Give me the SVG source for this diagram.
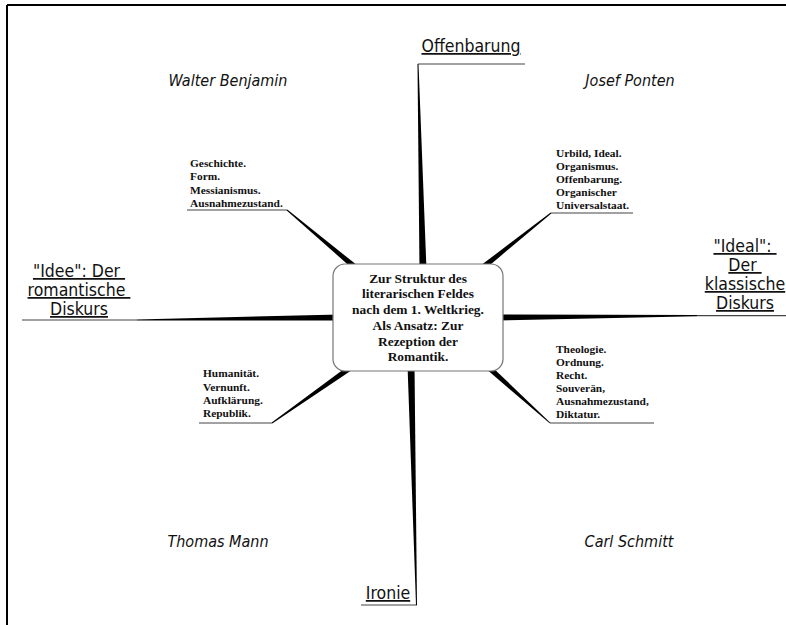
<svg xmlns="http://www.w3.org/2000/svg" width="786" height="625" viewBox="0 0 786 625">
<style>
.lbl{font-family:"DejaVu Sans Condensed","DejaVu Sans",sans-serif;font-stretch:condensed;font-size:17.5px;fill:#111;text-anchor:middle;text-decoration:underline;white-space:pre}
.name{font-family:"DejaVu Sans Condensed","DejaVu Sans",sans-serif;font-stretch:condensed;font-style:italic;font-size:16px;fill:#111;text-anchor:middle}
.sub{font-family:"Liberation Serif","Times New Roman",serif;font-weight:bold;font-size:11.4px;fill:#111}
.ctr{font-family:"Liberation Serif","Times New Roman",serif;font-weight:bold;font-size:13.4px;fill:#111;text-anchor:middle}
.thin{stroke:#444;stroke-width:1.2;fill:none}
.wedge{fill:#000}
</style>
<rect x="0" y="0" width="786" height="625" fill="#fff"/>
<g id="frame" stroke="#000" stroke-width="2" fill="none">
<line x1="7" y1="5" x2="786" y2="5"/>
<line x1="7" y1="5" x2="7" y2="625"/>
</g>
<g id="connectors">
<line class="thin" x1="418" y1="64" x2="525" y2="64"/>
<polygon class="wedge" points="417.5,64 418.5,64 426.5,270 419.5,270"/>
<line class="thin" x1="361" y1="605" x2="417" y2="605"/>
<polygon class="wedge" points="416,605 417,605 414.5,365 407.5,365"/>
<line class="thin" x1="22" y1="320" x2="137" y2="320"/>
<polygon class="wedge" points="137,319.4 340,314.5 340,320.5 137,320.6"/>
<line class="thin" x1="697" y1="315.6" x2="786" y2="315.6"/>
<polygon class="wedge" points="697,315 496,314.5 496,320.5 697,316.2"/>
<line class="thin" x1="187" y1="210" x2="287" y2="210"/>
<polygon class="wedge" points="286.68,210.38 354.2,270.14 357.8,265.86 287.32,209.62"/>
<line class="thin" x1="551" y1="213" x2="633" y2="213"/>
<polygon class="wedge" points="550.69,212.61 480.26,265.81 483.74,270.19 551.31,213.39"/>
<line class="thin" x1="199" y1="423" x2="272" y2="423"/>
<polygon class="wedge" points="272.29,423.41 351.62,370.29 348.38,365.71 271.71,422.59"/>
<line class="thin" x1="550" y1="423" x2="654" y2="423"/>
<polygon class="wedge" points="550.34,422.63 488.88,363.93 485.12,368.07 549.66,423.37"/>
</g>
<g id="center">
<rect x="333" y="264" width="170" height="107" rx="12" ry="12" fill="#fff" stroke="#777" stroke-width="1.2"/>
<text class="ctr" x="418" y="282.7">Zur Struktur des</text>
<text class="ctr" x="418" y="298.4">literarischen Feldes</text>
<text class="ctr" x="418" y="314.1">nach dem 1. Weltkrieg.</text>
<text class="ctr" x="418" y="329.8">Als Ansatz: Zur</text>
<text class="ctr" x="418" y="345.5">Rezeption der</text>
<text class="ctr" x="418" y="361.2">Romantik.</text>
</g>
<g id="offenbarung"><text class="lbl" x="471" y="52">Offenbarung</text></g>
<g id="ironie"><text class="lbl" x="388" y="599">Ironie</text></g>
<g id="idee">
<text class="lbl" x="79" y="277">"Idee": Der </text>
<text class="lbl" x="79" y="296">romantische </text>
<text class="lbl" x="79" y="315">Diskurs</text>
</g>
<g id="ideal">
<text class="lbl" x="745" y="252">"Ideal": </text>
<text class="lbl" x="745" y="271">Der </text>
<text class="lbl" x="745" y="290">klassische</text>
<text class="lbl" x="745" y="309">Diskurs</text>
</g>
<g id="benjamin"><text class="name" x="228" y="86">Walter Benjamin</text></g>
<g id="ponten"><text class="name" x="630" y="86">Josef Ponten</text></g>
<g id="mann"><text class="name" x="218" y="547">Thomas Mann</text></g>
<g id="schmitt"><text class="name" x="629" y="547">Carl Schmitt</text></g>
<g id="benjamin-themes">
<text class="sub" x="190" y="166.5">Geschichte.</text>
<text class="sub" x="190" y="180">Form.</text>
<text class="sub" x="190" y="193.5">Messianismus.</text>
<text class="sub" x="190" y="207">Ausnahmezustand.</text>
</g>
<g id="ponten-themes">
<text class="sub" x="556" y="156.5">Urbild, Ideal.</text>
<text class="sub" x="556" y="169.5">Organismus.</text>
<text class="sub" x="556" y="182.5">Offenbarung.</text>
<text class="sub" x="556" y="195.5">Organischer</text>
<text class="sub" x="556" y="208.5">Universalstaat.</text>
</g>
<g id="mann-themes">
<text class="sub" x="203" y="377.3">Humanität.</text>
<text class="sub" x="203" y="390.7">Vernunft.</text>
<text class="sub" x="203" y="404">Aufklärung.</text>
<text class="sub" x="203" y="417.3">Republik.</text>
</g>
<g id="schmitt-themes">
<text class="sub" x="556" y="352.7">Theologie.</text>
<text class="sub" x="556" y="366">Ordnung.</text>
<text class="sub" x="556" y="379">Recht.</text>
<text class="sub" x="556" y="392">Souverän,</text>
<text class="sub" x="556" y="405">Ausnahmezustand,</text>
<text class="sub" x="556" y="418">Diktatur.</text>
</g>
</svg>
